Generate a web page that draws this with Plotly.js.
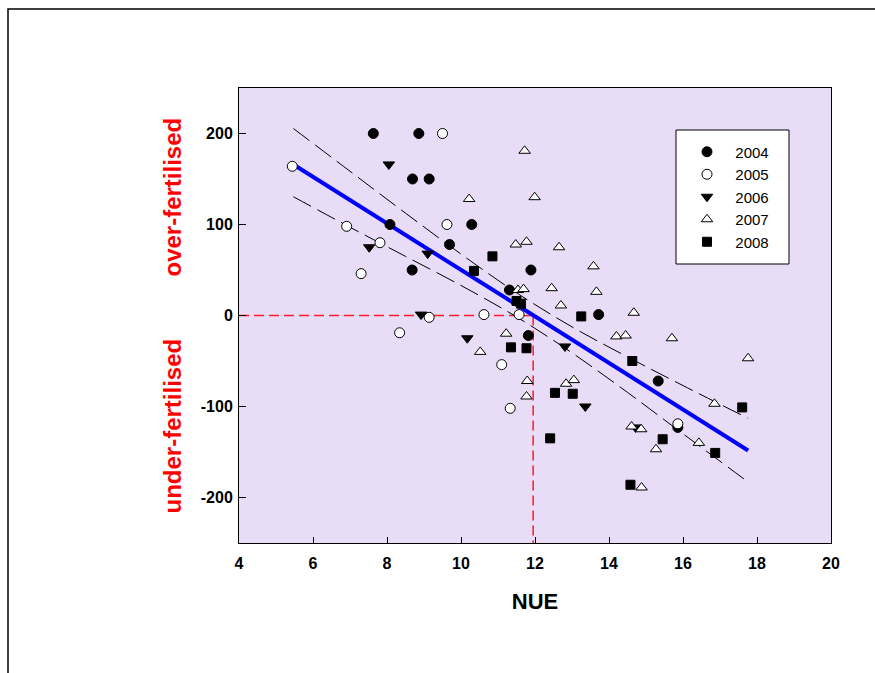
<!DOCTYPE html>
<html>
<head>
<meta charset="utf-8">
<script src="https://cdn.plot.ly/plotly-3.0.1.min.js"></script>
<style>
  html, body { margin: 0; padding: 0; background: #ffffff; }
  #chart { width: 875px; height: 673px; }
</style>
</head>
<body>
<div id="chart"></div>
<script>
// ---- Data ----
const years = ['2004', '2005', '2006', '2007', '2008'];

const nue2004 = [7.63, 8.86, 8.69, 9.14, 8.08, 10.29, 9.69, 8.68, 11.31, 11.89, 13.72, 11.82, 15.33, 15.86];
const dev2004 = [200, 200, 150, 150, 100, 100, 78, 50, 28, 50, 1, -22, -72, -123];

const nue2005 = [5.44, 9.50, 6.91, 7.81, 7.30, 9.62, 9.14, 10.62, 11.57, 8.34, 11.10, 11.33, 15.86];
const dev2005 = [164, 200, 98, 80, 46, 100, -2, 1, 1, -19, -54, -102, -119];

const nue2006 = [8.05, 7.52, 9.10, 8.92, 10.17, 12.81, 13.36, 14.72];
const dev2006 = [166, 75, 68, 1, -25, -34, -100, -123];

const nue2007 = [11.72, 10.22, 11.99, 11.48, 11.77, 12.65, 13.58, 11.54, 11.69, 12.45, 13.66, 12.70, 14.67,
                 11.22, 10.52, 14.20, 14.45, 15.70, 17.76, 11.79, 11.77, 12.84, 13.05, 14.61, 14.87, 15.27,
                 16.43, 16.85, 14.88];
const dev2007 = [181, 128, 130, 78, 81, 75, 54, 28, 29, 30, 26, 11, 3,
                 -20, -40, -23, -22, -25, -47, -72, -89, -75, -71, -122, -125, -147,
                 -140, -97, -189];

const nue2008 = [10.85, 10.35, 11.50, 11.62, 13.25, 11.35, 11.77, 14.63, 12.54, 13.02, 12.41, 15.45, 16.87, 17.60, 14.58];
const dev2008 = [65, 49, 16, 13, -1, -35, -36, -50, -85, -86, -135, -136, -151, -101, -186];

// Regression line and its confidence band
const fitX = [5.47, 17.76];
const fitY = [166, -148.4];
const bandX = [5.47, 7, 8.5, 10, 11.5, 13, 14.5, 16, 17.76];
const bandUpper = [205.5, 158.5, 112.5, 67.5, 25, -12.5, -45.5, -77, -113];
const bandLower = [130.5, 97, 65, 33, -1.5, -41, -84.5, -130, -183];

// Optimum NUE reference (red dashed lines)
const optimumNUE = 11.95;
const zeroDev = 0;

// Axis ticks
const xTickVals = [4, 6, 8, 10, 12, 14, 16, 18, 20];
const xTickText = ['4', '6', '8', '10', '12', '14', '16', '18', '20'];
const yTickVals = [200, 100, 0, -100, -200];
const yTickText = ['200', '100', '0', '-100', '-200'];

// ---- Styles ----
const FONT = 'Liberation Sans, Arial, Helvetica, sans-serif';
const nbsp = '\u00a0\u00a0';

function series(name, x, y, symbol, fill, size) {
  return {
    type: 'scatter', mode: 'markers', name: nbsp + name, x: x, y: y,
    marker: { symbol: symbol, size: size, color: fill, line: { color: '#000000', width: 1 } },
    legendgroup: name, hoverinfo: 'x+y'
  };
}

const traces = [
  { type: 'scatter', mode: 'lines', x: bandX, y: bandUpper, showlegend: false,
    line: { color: '#000000', width: 1, dash: '20px,7px', shape: 'spline' }, hoverinfo: 'skip' },
  { type: 'scatter', mode: 'lines', x: bandX, y: bandLower, showlegend: false,
    line: { color: '#000000', width: 1, dash: '20px,7px', shape: 'spline' }, hoverinfo: 'skip' },
  { type: 'scatter', mode: 'lines', x: fitX, y: fitY, showlegend: false,
    line: { color: '#0000ff', width: 4 }, hoverinfo: 'skip' },
  series(years[0], nue2004, dev2004, 'circle', '#000000', 10),
  series(years[1], nue2005, dev2005, 'circle', '#ffffff', 10),
  series(years[2], nue2006, dev2006, 'triangle-down', '#000000', 10),
  series(years[3], nue2007, dev2007, 'triangle-up', '#ffffff', 10),
  series(years[4], nue2008, dev2008, 'square', '#000000', 9)
];

const W = 875, H = 673;
const mL = 239, mR = 44, mT = 88, mB = 130;
const pw = W - mL - mR, ph = H - mT - mB;
const px = (p) => (p - mL) / pw;          // pixel x -> paper x
const py = (p) => (H - mB - p) / ph;      // pixel y -> paper y

const layout = {
  width: W, height: H,
  margin: { l: mL, r: mR, t: mT, b: mB, pad: 0 },
  paper_bgcolor: '#ffffff',
  plot_bgcolor: '#e8dcf7',
  font: { family: FONT, color: '#000000' },
  showlegend: true,
  legend: {
    x: px(687), y: py(135.5), xanchor: 'left', yanchor: 'top',
    bgcolor: 'rgba(0,0,0,0)', borderwidth: 0,
    font: { family: FONT, size: 15, color: '#000000' },
    traceorder: 'normal', tracegroupgap: 0
  },
  xaxis: {
    range: [4, 20], tickmode: 'array', tickvals: xTickVals, ticktext: xTickText,
    ticks: 'inside', ticklen: 6, tickwidth: 1, tickcolor: '#000000',
    showline: true, linecolor: '#000000', linewidth: 1, mirror: true,
    showgrid: false, zeroline: false,
    tickfont: { family: FONT, size: 16, weight: 'bold', color: '#000000' },
    ticklabelstandoff: 6,
    title: { text: 'NUE', font: { family: FONT, size: 22, weight: 'bold', color: '#000000' }, standoff: 22 }
  },
  yaxis: {
    range: [-250, 250], tickmode: 'array', tickvals: yTickVals, ticktext: yTickText,
    ticks: 'inside', ticklen: 7, tickwidth: 1, tickcolor: '#000000',
    showline: true, linecolor: '#000000', linewidth: 1, mirror: true,
    showgrid: false, zeroline: false,
    tickfont: { family: FONT, size: 16, weight: 'bold', color: '#000000' },
    ticklabelstandoff: 2
  },
  shapes: [
    // outer frame (top and left edges visible)
    { type: 'rect', xref: 'paper', yref: 'paper', x0: px(8), x1: px(2000), y0: py(2000), y1: py(9),
      line: { color: '#000000', width: 1.5 }, fillcolor: 'rgba(0,0,0,0)', layer: 'above' },
    // red reference lines
    { type: 'line', xref: 'x', yref: 'y', x0: 4, x1: optimumNUE, y0: zeroDev, y1: zeroDev,
      line: { color: '#ff1a2a', width: 1.5, dash: '10px,5px' }, layer: 'below' },
    { type: 'line', xref: 'x', yref: 'y', x0: optimumNUE, x1: optimumNUE, y0: zeroDev, y1: -250,
      line: { color: '#ff1a2a', width: 1.5, dash: '10px,5px' }, layer: 'below' },
    // legend box
    { type: 'rect', xref: 'paper', yref: 'paper', x0: px(676), x1: px(789), y0: py(264), y1: py(130),
      line: { color: '#000000', width: 1 }, fillcolor: '#ffffff', layer: 'above' }
  ],
  annotations: [
    { text: 'over-fertilised', xref: 'paper', yref: 'paper', x: px(172), y: py(197.5),
      xanchor: 'center', yanchor: 'middle', textangle: -90, showarrow: false,
      font: { family: FONT, size: 24, weight: 'bold', color: '#ff0000' } },
    { text: 'under-fertilised', xref: 'paper', yref: 'paper', x: px(172), y: py(426.5),
      xanchor: 'center', yanchor: 'middle', textangle: -90, showarrow: false,
      font: { family: FONT, size: 24, weight: 'bold', color: '#ff0000' } }
  ]
};

Plotly.newPlot('chart', traces, layout, { displayModeBar: false, staticPlot: true });
</script>
</body>
</html>
